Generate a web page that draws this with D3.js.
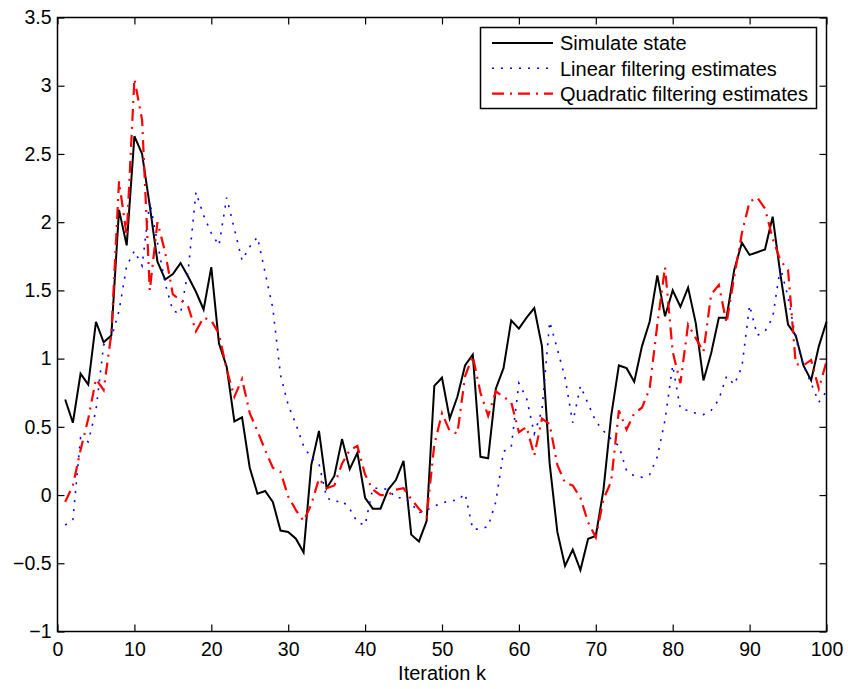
<!doctype html>
<head>
  <meta charset="utf-8">
  <title>Filtering estimates</title>
  <script src="https://cdn.jsdelivr.net/npm/d3@7"></script>
  <style>
    body { margin: 0; background: #fff; }
    svg { display: block; font-family: "Liberation Sans", Arial, sans-serif; }
  </style>
</head>

<body>
  <div id="chart"></div>

  <script type="text/javascript">
    var iterations = d3.range(1, 101);

    var simState = [
      0.70, 0.53, 0.89, 0.81, 1.27, 1.12, 1.17, 2.09, 1.83, 2.63,
      2.50, 2.12, 1.71, 1.58, 1.62, 1.70, 1.60, 1.49, 1.36, 1.67,
      1.11, 0.94, 0.54, 0.57, 0.20, 0.01, 0.03, -0.05, -0.26, -0.27,
      -0.32, -0.42, 0.22, 0.47, 0.05, 0.14, 0.41, 0.19, 0.31, -0.02,
      -0.10, -0.10, 0.04, 0.11, 0.25, -0.29, -0.34, -0.19, 0.80, 0.86,
      0.56, 0.72, 0.95, 1.03, 0.28, 0.27, 0.78, 0.93, 1.28, 1.22,
      1.30, 1.37, 1.09, 0.23, -0.27, -0.52, -0.40, -0.55, -0.32, -0.30,
      0.04, 0.58, 0.95, 0.93, 0.83, 1.09, 1.27, 1.61, 1.31, 1.50,
      1.38, 1.52, 1.26, 0.84, 1.04, 1.30, 1.30, 1.65, 1.85, 1.76,
      1.78, 1.80, 2.04, 1.62, 1.25, 1.17, 0.95, 0.84, 1.09, 1.27
    ];

    var linearEst = [
      -0.22, -0.18, 0.42, 0.39, 0.62, 1.10, 1.15, 1.35, 1.68, 1.79,
      1.68, 2.15, 1.85, 1.55, 1.35, 1.33, 1.65, 2.22, 2.05, 1.92,
      1.83, 2.18, 1.95, 1.72, 1.82, 1.89, 1.63, 1.37, 0.88, 0.66,
      0.52, 0.36, 0.27, 0.23, -0.02, -0.05, -0.04, -0.10, -0.20, -0.22,
      0.05, 0.05, 0.04, -0.02, -0.02, -0.06, -0.13, -0.11, -0.08, -0.06,
      -0.04, -0.04, 0.01, -0.25, -0.25, -0.23, -0.05, 0.32, 0.35, 0.82,
      0.71, 0.45, 0.62, 1.27, 1.07, 0.86, 0.53, 0.80, 0.67, 0.54,
      0.47, 0.41, 0.36, 0.18, 0.14, 0.13, 0.15, 0.28, 0.55, 0.95,
      0.63, 0.62, 0.60, 0.59, 0.62, 0.70, 0.87, 0.81, 0.94, 1.39,
      1.17, 1.20, 1.30, 1.67, 1.45, 1.15, 0.95, 0.82, 0.68, 0.76
    ];

    var quadEst = [
      -0.05, 0.07, 0.33, 0.56, 0.85, 0.77, 1.18, 2.30, 1.90, 3.05,
      2.75, 1.50, 2.00, 1.78, 1.47, 1.43, 1.38, 1.20, 1.30, 1.28,
      1.18, 0.92, 0.72, 0.85, 0.60, 0.47, 0.33, 0.20, 0.17, -0.01,
      -0.11, -0.19, -0.07, 0.12, 0.05, 0.07, 0.23, 0.33, 0.36, 0.15,
      0.04, 0.00, 0.00, 0.04, 0.05, -0.03, -0.10, -0.16, 0.37, 0.60,
      0.47, 0.45, 0.87, 1.02, 0.75, 0.58, 0.76, 0.72, 0.68, 0.46,
      0.50, 0.29, 0.56, 0.52, 0.22, 0.09, 0.07, -0.02, -0.20, -0.31,
      -0.03, 0.10, 0.62, 0.48, 0.60, 0.64, 0.78, 1.25, 1.67, 1.05,
      0.82, 1.25, 1.15, 1.05, 1.47, 1.54, 1.26, 1.60, 1.92, 2.15,
      2.18, 2.10, 1.88, 1.72, 1.65, 0.96, 0.95, 0.99, 0.78, 0.98
    ];

    var xTicks = [0, 10, 20, 30, 40, 50, 60, 70, 80, 90, 100];
    var yTicks = [-1, -0.5, 0, 0.5, 1, 1.5, 2, 2.5, 3, 3.5];
    var seriesNames = ['Simulate state', 'Linear filtering estimates', 'Quadratic filtering estimates'];

    var width = 848;
    var height = 689;
    // plot box in pixels (note: "top" is reserved on window)
    var plotLeft = 57.5, plotRight = 826.5, plotTop = 17.5, plotBottom = 631.5;

    var svg = d3.select('div#chart')
      .append('svg')
      .attr('width', width)
      .attr('height', height);

    var x = d3.scaleLinear().domain([0, 100]).range([plotLeft, plotRight]);
    var y = d3.scaleLinear().domain([-1, 3.5]).range([plotBottom, plotTop]);

    var series = [
      { name: seriesNames[0], values: simState, color: '#000', width: 2, dash: null },
      { name: seriesNames[1], values: linearEst, color: '#0000ff', width: 1.6, dash: '2,7' },
      { name: seriesNames[2], values: quadEst, color: '#ff0000', width: 2.2, dash: '12,6,2,6' }
    ];

    var line = d3.line()
      .x(function(d, i) { return x(iterations[i]); })
      .y(function(d) { return y(d); });

    svg.append('g')
      .selectAll('path')
      .data(series)
      .enter()
      .append('path')
      .attr('d', function(s) { return line(s.values); })
      .attr('fill', 'none')
      .attr('stroke', function(s) { return s.color; })
      .attr('stroke-width', function(s) { return s.width; })
      .attr('stroke-dasharray', function(s) { return s.dash; });

    // axes, ticks pointing inward like matlab
    svg.append('g')
      .attr('transform', 'translate(0,' + plotBottom + ')')
      .call(d3.axisBottom(x).tickValues(xTicks).tickSizeInner(-7).tickSizeOuter(0).tickPadding(11));
    svg.append('g')
      .attr('transform', 'translate(0,' + plotTop + ')')
      .call(d3.axisTop(x).tickValues(xTicks).tickSizeInner(-7).tickSizeOuter(0).tickFormat(''));
    svg.append('g')
      .attr('transform', 'translate(' + plotLeft + ',0)')
      .call(d3.axisLeft(y).tickValues(yTicks).tickSizeInner(-7).tickSizeOuter(0).tickPadding(6)
        .tickFormat(d3.format('~g')));
    svg.append('g')
      .attr('transform', 'translate(' + plotRight + ',0)')
      .call(d3.axisRight(y).tickValues(yTicks).tickSizeInner(-7).tickSizeOuter(0).tickFormat(''));

    svg.selectAll('.domain').remove();
    svg.selectAll('.tick line').attr('stroke', '#000').attr('stroke-width', 1.2);
    svg.selectAll('.tick text')
      .attr('font-size', '19.5px')
      .attr('font-family', '"Liberation Sans", Arial, sans-serif')
      .attr('fill', '#000');

    svg.append('rect')
      .attr('x', plotLeft)
      .attr('y', plotTop)
      .attr('width', plotRight - plotLeft)
      .attr('height', plotBottom - plotTop)
      .attr('fill', 'none')
      .attr('stroke', '#000')
      .attr('stroke-width', 1.5);

    svg.append('text')
      .attr('x', (plotLeft + plotRight) / 2)
      .attr('y', 680)
      .attr('text-anchor', 'middle')
      .attr('font-size', '20px')
      .text('Iteration k');

    // legend
    var legend = svg.append('g');
    legend.append('rect')
      .attr('x', 480.5)
      .attr('y', 27.5)
      .attr('width', 336)
      .attr('height', 81)
      .attr('fill', '#fff')
      .attr('stroke', '#000')
      .attr('stroke-width', 1.5);

    var rows = legend.selectAll('g.row')
      .data(series)
      .enter()
      .append('g')
      .attr('class', 'row')
      .attr('transform', function(d, i) { return 'translate(0,' + (43 + i * 25.3) + ')'; });

    rows.append('line')
      .attr('x1', 492)
      .attr('x2', 553)
      .attr('stroke', function(s) { return s.color; })
      .attr('stroke-width', function(s) { return s.width; })
      .attr('stroke-dasharray', function(s) { return s.dash; });

    rows.append('text')
      .attr('x', 560)
      .attr('dy', '0.36em')
      .attr('font-size', '20px')
      .text(function(s) { return s.name; });
  </script>
</body>

</html>
